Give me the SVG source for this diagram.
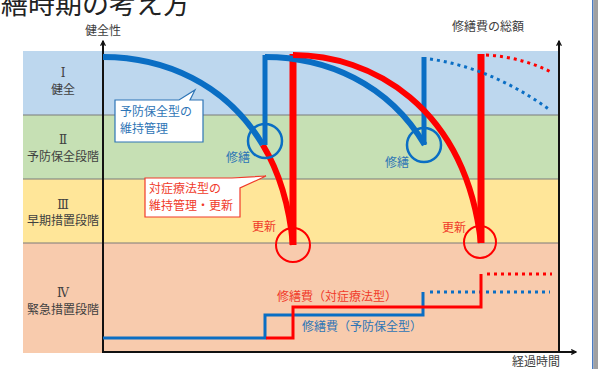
<svg xmlns="http://www.w3.org/2000/svg" width="598" height="369" viewBox="0 0 598 369">
<defs>
<style>
.t{font-family:"Noto Sans CJK JP","Noto Sans",sans-serif;font-size:12px}
.lab{fill:#404040;text-anchor:middle}
.rn{font-family:"DejaVu Serif","Liberation Serif",serif;font-size:12px;fill:#404040;text-anchor:middle}
.sep{stroke:#7a7a7a;stroke-width:1}
.ax{stroke:#111;stroke-width:2;fill:none}
.bl{stroke:#0a6ec4;fill:none}
.rd{stroke:#ff0000;fill:none}
.blt{fill:#2e75b6}
.rdt{fill:#f03a2a}
</style>
<marker id="ah" viewBox="0 0 10 10" refX="9" refY="5" markerWidth="6" markerHeight="6" orient="auto-start-reverse" markerUnits="userSpaceOnUse">
<path d="M1,1 L9,5 L1,9" fill="none" stroke="#111" stroke-width="2"/>
</marker>
</defs>
<rect width="598" height="369" fill="#ffffff"/>
<text x="1" y="14" style="font-family:'Noto Sans CJK JP',sans-serif;font-size:27px;fill:#222">繕時期の考え方</text>

<g id="bands">
<rect x="23" y="51" width="536" height="64" fill="#bdd7ee"/>
<rect x="23" y="115" width="536" height="64" fill="#c6e0b4"/>
<rect x="23" y="179" width="536" height="64" fill="#ffe699"/>
<rect x="23" y="243" width="536" height="110" fill="#f8cbad"/>
<line class="sep" x1="23" y1="115" x2="559" y2="115"/>
<line class="sep" x1="23" y1="179" x2="559" y2="179"/>
<line class="sep" x1="23" y1="243" x2="559" y2="243"/>
</g>

<g id="stage1"><text class="rn" x="63" y="77">Ⅰ</text><text class="t lab" x="63" y="94">健全</text></g>
<g id="stage2"><text class="rn" x="63" y="144">Ⅱ</text><text class="t lab" x="63" y="161">予防保全段階</text></g>
<g id="stage3"><text class="rn" x="63" y="209">Ⅲ</text><text class="t lab" x="63" y="225">早期措置段階</text></g>
<g id="stage4"><text class="rn" x="63" y="297">Ⅳ</text><text class="t lab" x="63" y="314">緊急措置段階</text></g>

<g id="axes">
<path class="ax" d="M103,353 V41" marker-end="url(#ah)"/>
<path class="ax" d="M559,353 V41" marker-end="url(#ah)"/>
<path class="ax" d="M102,352 H576" marker-end="url(#ah)"/>
<text class="t" x="103" y="35" text-anchor="middle" fill="#404040">健全性</text>
<text class="t" x="488" y="31" text-anchor="middle" fill="#404040">修繕費の総額</text>
<text class="t" x="536" y="366" text-anchor="middle" fill="#404040">経過時間</text>
</g>

<g id="connectors">
<path class="rd" stroke-width="6" d="M262.7,144.8 C278.3,170.4 289.1,203.1 293,245"/>
<path class="bl" stroke-width="6" d="M103,57 C163.9,57 226.3,83.4 262.7,144.8"/>
<path class="bl" stroke-width="5" d="M265,145 V55"/>
<path class="rd" stroke-width="7" d="M293,245 V54"/>
<path class="bl" stroke-width="6" d="M265,57 C325.9,57 388.3,83.4 424.7,144.8"/>
<path class="bl" stroke-width="5" d="M424,145 V57"/>
<path class="rd" stroke-width="6" d="M293,55 C370,55 465,105 481,243"/>
<path class="rd" stroke-width="7" d="M481,243 V54"/>
<path class="bl" stroke-width="3" stroke-dasharray="3 4" d="M430,59 Q492,68 550,110"/>
<path class="rd" stroke-width="3" stroke-dasharray="3 4" d="M486,55 Q522,57 553,73"/>
<path class="bl" stroke-width="3" d="M103,338 H265 V315 H423 V292"/>
<path class="bl" stroke-width="3" stroke-dasharray="3 4" d="M430,292 H550"/>
<path class="rd" stroke-width="3" d="M266,338 H293 V307 H481 V274"/>
<path class="rd" stroke-width="3" stroke-dasharray="3 4" d="M487,274 H552"/>
</g>

<g id="markers">
<circle cx="265" cy="141" r="17" fill="none" stroke="#0a6ec4" stroke-width="2.5"/>
<circle cx="424" cy="145" r="17" fill="none" stroke="#0a6ec4" stroke-width="2.5"/>
<circle cx="293" cy="245" r="17" fill="none" stroke="#ff0000" stroke-width="2"/>
<circle cx="480" cy="242" r="16" fill="none" stroke="#ff0000" stroke-width="2"/>
</g>

<g id="repair1"><text class="t blt" x="238" y="162" text-anchor="middle">修繕</text></g>
<g id="repair2"><text class="t blt" x="397" y="167" text-anchor="middle">修繕</text></g>
<g id="renew1"><text class="t rdt" x="264" y="231" text-anchor="middle">更新</text></g>
<g id="renew2"><text class="t rdt" x="454" y="232" text-anchor="middle">更新</text></g>

<g id="callout-preventive">
<path d="M115,100 H179 L195,90 L190,100 H203 V142 H115 Z" fill="#ffffff" stroke="#2e75b6" stroke-width="1.2"/>
<text class="t blt" x="120" y="116">予防保全型の</text>
<text class="t blt" x="120" y="133">維持管理</text>
</g>
<g id="callout-corrective">
<path d="M145,178 H232 L266,176 L240,188 V217 H145 Z" fill="#ffffff" stroke="#f03a2a" stroke-width="1.2"/>
<text class="t rdt" x="149" y="193">対症療法型の</text>
<text class="t rdt" x="149" y="210">維持管理・更新</text>
</g>

<g id="cost-corrective"><text class="t rdt" x="337" y="301" text-anchor="middle">修繕費（対症療法型）</text></g>
<g id="cost-preventive"><text class="t blt" x="362" y="331" text-anchor="middle">修繕費（予防保全型）</text></g>

<rect x="592" y="0" width="1.5" height="369" fill="#4a7cc4"/>
<rect x="593.5" y="0" width="4.5" height="369" fill="#a0a0a0"/>
</svg>
